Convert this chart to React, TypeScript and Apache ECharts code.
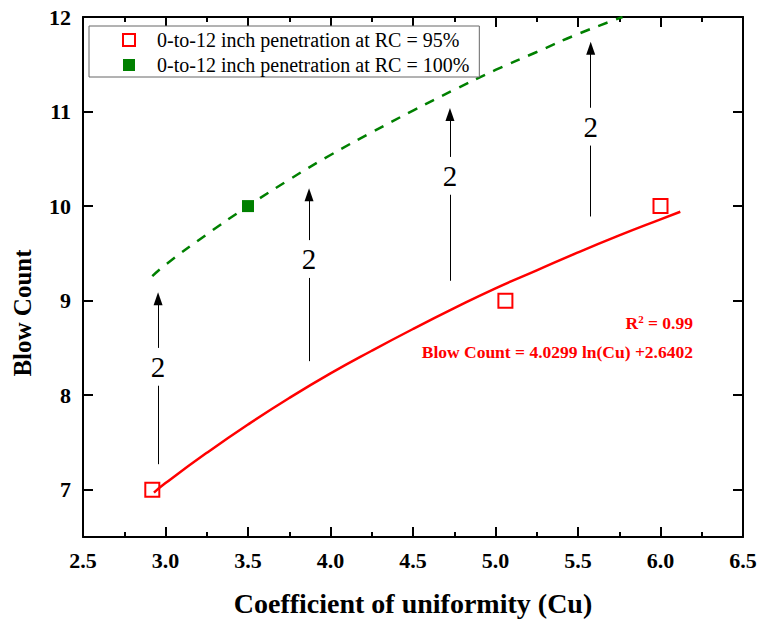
import React, { useEffect, useRef } from "react";
import * as echarts from "echarts";

const xTicks = [2.5, 3.0, 3.5, 4.0, 4.5, 5.0, 5.5, 6.0, 6.5];
const yTicks = [7, 8, 9, 10, 11, 12];

const rc95X = [2.92, 5.06, 6.0];
const rc95Y = [7, 9, 10];
const rc100X = [3.5];
const rc100Y = [10];

const redFitX = [2.93, 3.0, 3.25, 3.5, 3.75, 4.0, 4.25, 4.5, 4.75, 5.0, 5.25, 5.5, 5.75, 6.0, 6.12];
const redFitY = [6.97, 7.07, 7.39, 7.69, 7.97, 8.23, 8.47, 8.7, 8.92, 9.13, 9.32, 9.51, 9.69, 9.86, 9.94];

const greenFitX = [2.92, 3.0, 3.25, 3.5, 3.75, 4.0, 4.25, 4.5, 4.75, 5.0, 5.25, 5.5, 5.77];
const greenFitY = [9.26, 9.38, 9.7, 10.0, 10.28, 10.54, 10.78, 11.01, 11.23, 11.44, 11.63, 11.82, 12.0];

const arrowX = [2.955, 3.87, 4.724, 5.577];
const arrowBottom = [7.27, 8.36, 9.21, 9.89];
const arrowLabelY = [8.3, 9.44, 10.32, 10.84];
const arrowTip = [9.09, 10.19, 11.04, 11.74];
const arrowLabels = ["2", "2", "2", "2"];

const legendNames = [
  "0-to-12 inch penetration at RC = 95%",
  "0-to-12 inch penetration at RC = 100%",
];

const SERIF = "Liberation Serif";

export default function App() {
  const ref = useRef<HTMLDivElement>(null);

  useEffect(() => {
    if (!ref.current) return;
    const chart = echarts.init(ref.current, undefined, { renderer: "svg" });
    const gap = 0.2;
    const tipBack = 0.07;

    const axisCommon = {
      axisLine: { show: true, onZero: false, lineStyle: { color: "#000", width: 2 } },
      splitLine: { show: false },
    };

    const option: any = {
      animation: false,
      backgroundColor: "#fff",
      textStyle: { fontFamily: SERIF },
      grid: { left: 83, right: 17, top: 17, bottom: 88, containLabel: false },
      legend: {
        data: legendNames,
        orient: "vertical",
        left: 89,
        top: 26,
        padding: [4, 10, 2, 33],
        borderColor: "#666",
        borderWidth: 1,
        backgroundColor: "#fff",
        itemWidth: 12,
        itemHeight: 12,
        itemGap: 5,
        textStyle: {
          fontFamily: SERIF,
          fontSize: 20,
          color: "#000",
          lineHeight: 20,
          padding: [0, 0, 0, 17],
        },
      },
      xAxis: [
        {
          type: "value",
          position: "bottom",
          min: 2.5,
          max: 6.5,
          interval: 0.5,
          ...axisCommon,
          axisTick: { show: true, inside: true, length: 10, lineStyle: { color: "#000", width: 2 } },
          minorTick: { show: true, splitNumber: 2, length: 5, lineStyle: { color: "#000", width: 2 } },
          axisLabel: {
            show: true,
            margin: 12,
            fontFamily: SERIF,
            fontWeight: "bold",
            fontSize: 22,
            color: "#000",
            formatter: (v: number) => v.toFixed(1),
          },
          name: "Coefficient of uniformity (Cu)",
          nameLocation: "middle",
          nameGap: 52,
          nameTextStyle: { fontFamily: SERIF, fontWeight: "bold", fontSize: 28, color: "#000" },
        },
        {
          type: "value",
          position: "top",
          min: 2.5,
          max: 6.5,
          interval: 0.5,
          ...axisCommon,
          axisTick: { show: true, inside: true, length: 10, lineStyle: { color: "#000", width: 2 } },
          minorTick: { show: true, splitNumber: 2, length: 5, lineStyle: { color: "#000", width: 2 } },
          axisLabel: { show: false },
        },
      ],
      yAxis: [
        {
          type: "value",
          position: "left",
          min: 6.5,
          max: 12,
          interval: 0.5,
          ...axisCommon,
          axisTick: {
            show: true,
            inside: true,
            length: 10,
            customValues: yTicks,
            lineStyle: { color: "#000", width: 2 },
          },
          axisLabel: {
            show: true,
            margin: 12,
            customValues: yTicks,
            fontFamily: SERIF,
            fontWeight: "bold",
            fontSize: 22,
            color: "#000",
          },
        },
        {
          type: "value",
          position: "right",
          min: 6.5,
          max: 12,
          interval: 0.5,
          ...axisCommon,
          axisTick: {
            show: true,
            inside: true,
            length: 10,
            customValues: yTicks,
            lineStyle: { color: "#000", width: 2 },
          },
          axisLabel: { show: false },
        },
      ],
      graphic: [
        {
          type: "text",
          x: 22,
          y: 313,
          rotation: Math.PI / 2,
          style: {
            text: "Blow Count",
            font: `bold 25px ${SERIF}`,
            fill: "#000",
            align: "center",
            verticalAlign: "middle",
          },
        },
        {
          type: "text",
          x: 693,
          y: 323,
          style: {
            text: "{b|R}{s|2}{b| = 0.99}",
            align: "right",
            verticalAlign: "middle",
            rich: {
              b: { fill: "#ff0000", fontSize: 17.5, fontWeight: "bold", fontFamily: SERIF },
              s: { fontSize: 11, fontWeight: "bold", fontFamily: SERIF, fill: "#ff0000", padding: [0, 0, 8, 0] },
            },
          },
        },
        {
          type: "text",
          x: 693,
          y: 352,
          style: {
            text: "Blow Count = 4.0299 ln(Cu) +2.6402",
            font: `bold 17.5px ${SERIF}`,
            fill: "#ff0000",
            align: "right",
            verticalAlign: "middle",
          },
        },
      ],
      series: [
        {
          name: "fit95",
          type: "line",
          xAxisIndex: 0,
          yAxisIndex: 0,
          data: redFitX.map((x, i) => [x, redFitY[i]]),
          smooth: true,
          showSymbol: false,
          symbol: "none",
          lineStyle: { color: "#ff0000", width: 2.5 },
          z: 2,
        },
        {
          name: "fit100",
          type: "line",
          xAxisIndex: 0,
          yAxisIndex: 0,
          data: greenFitX.map((x, i) => [x, greenFitY[i]]),
          smooth: true,
          showSymbol: false,
          symbol: "none",
          lineStyle: { color: "#008000", width: 2.5, type: [10, 9] },
          z: 2,
        },
        {
          name: "arrows",
          type: "line",
          xAxisIndex: 0,
          yAxisIndex: 0,
          data: [],
          markLine: {
            silent: true,
            symbol: ["none", "none"],
            label: { show: false },
            lineStyle: { color: "#000", width: 1, type: "solid" },
            data: [
              ...arrowX.map((x, i) => [
                { coord: [x, arrowBottom[i]], symbol: "none" },
                { coord: [x, arrowLabelY[i] - gap], symbol: "none" },
              ]),
              ...arrowX.map((x, i) => [
                { coord: [x, arrowLabelY[i] + gap], symbol: "none" },
                { coord: [x, arrowTip[i] - tipBack], symbol: "triangle", symbolSize: [9, 13] },
              ]),
            ],
          },
          z: 3,
        },
        {
          name: "arrowLabels",
          type: "scatter",
          xAxisIndex: 0,
          yAxisIndex: 0,
          symbolSize: 1,
          itemStyle: { color: "rgba(0,0,0,0)", opacity: 1 },
          data: arrowX.map((x, i) => ({ value: [x, arrowLabelY[i]], name: arrowLabels[i] })),
          label: {
            show: true,
            position: "inside",
            formatter: (p: any) => p.name,
            fontFamily: SERIF,
            fontSize: 29,
            color: "#000",
            opacity: 1,
          },
          z: 4,
        },
        {
          name: legendNames[0],
          type: "scatter",
          xAxisIndex: 0,
          yAxisIndex: 0,
          symbol: "rect",
          symbolSize: 14,
          itemStyle: { color: "rgba(255,255,255,0)", borderColor: "#ff0000", borderWidth: 2, opacity: 1 },
          data: rc95X.map((x, i) => [x, rc95Y[i]]),
          z: 5,
        },
        {
          name: legendNames[1],
          type: "scatter",
          xAxisIndex: 0,
          yAxisIndex: 0,
          symbol: "rect",
          symbolSize: 12,
          itemStyle: { color: "#008000", opacity: 1 },
          data: rc100X.map((x, i) => [x, rc100Y[i]]),
          z: 5,
        },
      ],
    };

    chart.setOption(option);
    return () => chart.dispose();
  }, []);

  return (
    <div
      ref={ref}
      style={{ position: "fixed", left: 0, top: 0, width: 760, height: 625, background: "#fff" }}
    />
  );
}
